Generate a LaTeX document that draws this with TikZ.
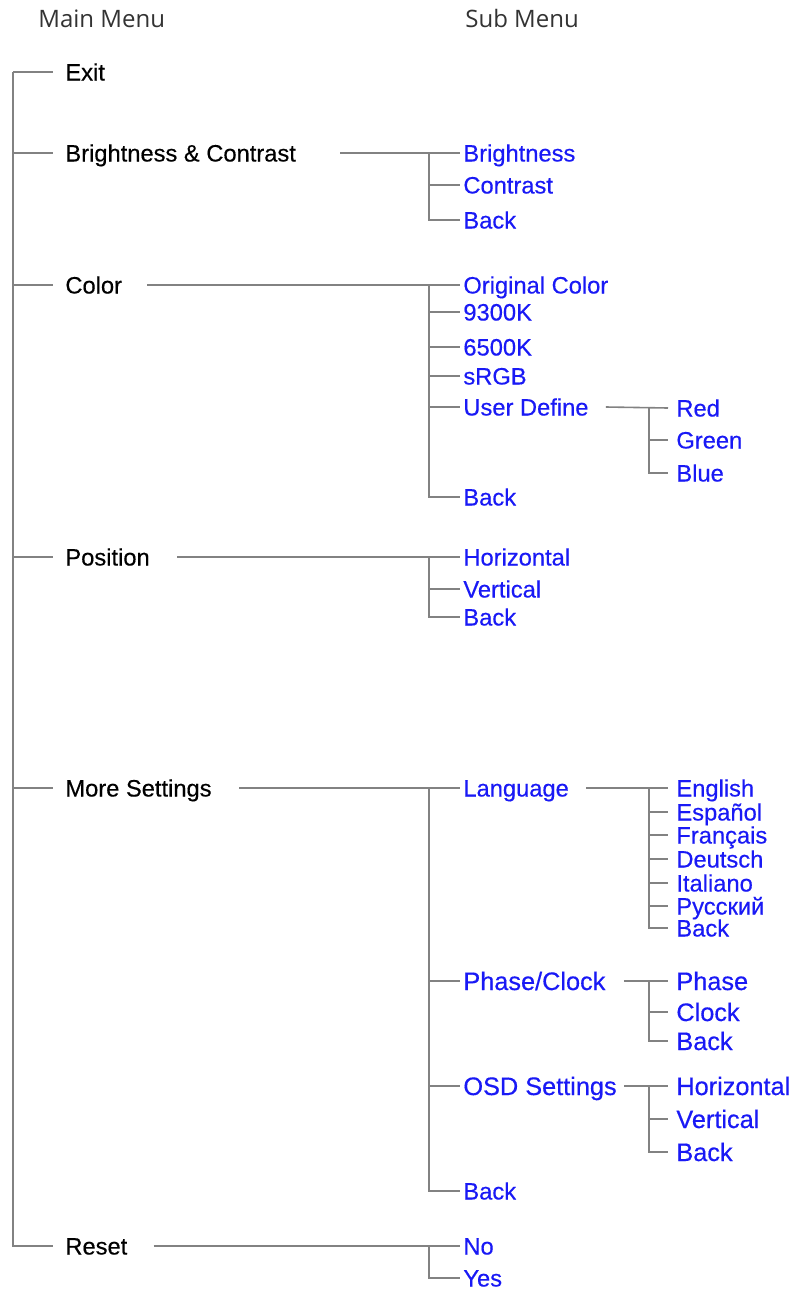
\documentclass[tikz,border=0pt]{standalone}
\usepackage{fontspec}
\setmainfont{Liberation Sans}[FakeBold=0.4]
\newfontfamily\headfont{Open Sans}
\definecolor{menublue}{RGB}{25,25,245}
\definecolor{linegray}{RGB}{130,130,130}

\begin{document}
\begin{tikzpicture}[x=0.5pt,y=-0.5pt,
  every node/.style={font=\fontsize{11.85}{14}\selectfont,text height=8.5pt,text depth=0pt,inner ysep=0pt,anchor=west},
  head/.style={font=\headfont\fontsize{12}{14}\selectfont,text=black!80,inner xsep=0pt},
  mainitem/.style={inner xsep=6pt},
  subitem/.style={text=menublue,inner xsep=1.5pt},
  leafitem/.style={text=menublue,inner xsep=4pt},
  larger/.style={font=\fontsize{12.65}{15}\selectfont,text height=9pt},
  branch/.style={draw=linegray,line width=0.8pt}]
\useasboundingbox (0,0) rectangle (793,1291);

\node[head] (mainhead) at (38,19) {Main Menu};
\node[head] (subhead) at (465,19) {Sub Menu};

\coordinate (trunk) at (13,0);
\coordinate (subtrunk) at (429,0);
\coordinate (leaftrunk) at (649,0);

\node[mainitem] (exit) at (53,72) {Exit};
\node[mainitem] (bc) at (53,153) {Brightness \& Contrast};
\node[mainitem] (color) at (53,285) {Color};
\node[mainitem] (position) at (53,557) {Position};
\node[mainitem] (more) at (53,788) {More Settings};
\node[mainitem] (reset) at (53,1246) {Reset};

\draw[branch] (trunk |- exit.west) -- (trunk |- reset.west) -- (reset.west);
\foreach \n in {exit,bc,color,position,more}
  \draw[branch] (trunk |- \n.west) -- (\n.west);

\node[subitem] (bright) at (460,153) {Brightness};
\node[subitem] (contrast) at (460,185) {Contrast};
\node[subitem] (bcback) at (460,220) {Back};
\draw[branch] ([xshift=16pt]bc.east) -- (bright.west);
\draw[branch] (subtrunk |- bright.west) -- (subtrunk |- bcback.west) -- (bcback.west);
\draw[branch] (subtrunk |- contrast.west) -- (contrast.west);

\node[subitem] (orig) at (460,285) {Original Color};
\node[subitem] (k9300) at (460,312) {9300K};
\node[subitem] (k6500) at (460,347) {6500K};
\node[subitem] (srgb) at (460,376) {sRGB};
\node[subitem] (userdef) at (460,407) {User Define};
\node[subitem] (colback) at (460,497) {Back};
\draw[branch] ([xshift=6.5pt]color.east) -- (orig.west);
\draw[branch] (subtrunk |- orig.west) -- (subtrunk |- colback.west) -- (colback.west);
\foreach \n in {k9300,k6500,srgb,userdef}
  \draw[branch] (subtrunk |- \n.west) -- (\n.west);

\node[leafitem] (red) at (668,408) {Red};
\node[leafitem] (green) at (668,440) {Green};
\node[leafitem] (blue) at (668,473) {Blue};
\draw[branch] ([xshift=7pt]userdef.east) -- (red.west);
\draw[branch] (leaftrunk |- red.west) -- (leaftrunk |- blue.west) -- (blue.west);
\draw[branch] (leaftrunk |- green.west) -- (green.west);

\node[subitem] (horiz) at (460,557) {Horizontal};
\node[subitem] (vert) at (460,589) {Vertical};
\node[subitem] (posback) at (460,617) {Back};
\draw[branch] ([xshift=7.5pt]position.east) -- (horiz.west);
\draw[branch] (subtrunk |- horiz.west) -- (subtrunk |- posback.west) -- (posback.west);
\draw[branch] (subtrunk |- vert.west) -- (vert.west);

\node[subitem] (lang) at (460,788) {Language};
\node[subitem,larger] (phaseclock) at (460,981) {Phase/Clock};
\node[subitem,larger] (osd) at (460,1086) {OSD Settings};
\node[subitem] (moreback) at (460,1191) {Back};
\draw[branch] ([xshift=7.5pt]more.east) -- (lang.west);
\draw[branch] (subtrunk |- lang.west) -- (subtrunk |- moreback.west) -- (moreback.west);
\foreach \n in {phaseclock,osd}
  \draw[branch] (subtrunk |- \n.west) -- (\n.west);

\node[leafitem] (english) at (668,788) {English};
\node[leafitem] (espanol) at (668,812) {Español};
\node[leafitem] (francais) at (668,835) {Français};
\node[leafitem] (deutsch) at (668,859) {Deutsch};
\node[leafitem] (italiano) at (668,883) {Italiano};
\node[leafitem] (russian) at (668,906) {Русский};
\node[leafitem] (langback) at (668,928) {Back};
\draw[branch] ([xshift=7pt]lang.east) -- (english.west);
\draw[branch] (leaftrunk |- english.west) -- (leaftrunk |- langback.west) -- (langback.west);
\foreach \n in {espanol,francais,deutsch,italiano,russian}
  \draw[branch] (leaftrunk |- \n.west) -- (\n.west);

\node[leafitem,larger] (phase) at (668,981) {Phase};
\node[leafitem,larger] (clock) at (668,1012) {Clock};
\node[leafitem,larger] (pcback) at (668,1041) {Back};
\draw[branch] ([xshift=7.5pt]phaseclock.east) -- (phase.west);
\draw[branch] (leaftrunk |- phase.west) -- (leaftrunk |- pcback.west) -- (pcback.west);
\draw[branch] (leaftrunk |- clock.west) -- (clock.west);

\node[leafitem,larger] (osdhoriz) at (668,1086) {Horizontal};
\node[leafitem,larger] (osdvert) at (668,1119) {Vertical};
\node[leafitem,larger] (osdback) at (668,1152) {Back};
\draw[branch] ([xshift=2pt]osd.east) -- (osdhoriz.west);
\draw[branch] (leaftrunk |- osdhoriz.west) -- (leaftrunk |- osdback.west) -- (osdback.west);
\draw[branch] (leaftrunk |- osdvert.west) -- (osdvert.west);

\node[subitem] (no) at (460,1246) {No};
\node[subitem] (yes) at (460,1278) {Yes};
\draw[branch] ([xshift=7pt]reset.east) -- (no.west);
\draw[branch] (subtrunk |- no.west) -- (subtrunk |- yes.west) -- (yes.west);
\end{tikzpicture}
\end{document}
